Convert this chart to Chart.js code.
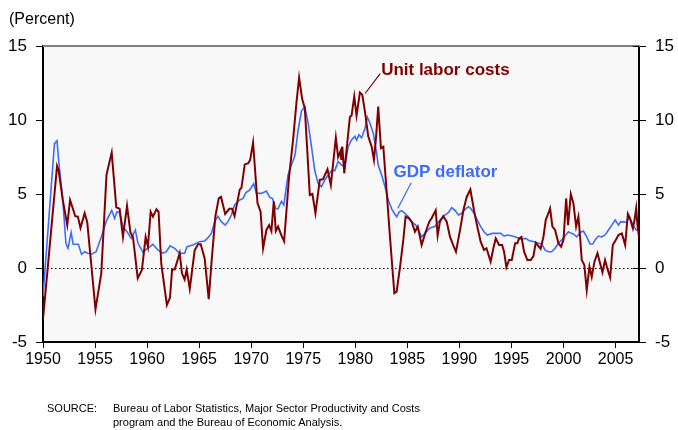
<!DOCTYPE html>
<html>
<head>
<meta charset="utf-8">
<script src="https://cdn.jsdelivr.net/npm/chart.js@4.4.1/dist/chart.umd.min.js"></script>
<style>
  body { margin: 0; background: #fff; }
  #wrap { position: relative; width: 678px; height: 430px; font-family: "Liberation Sans", Arial, sans-serif; color: #000; }
  #percent { position: absolute; left: 9px; top: 11px; font-size: 16px; line-height: 16px; }
  #source { position: absolute; left: 47px; top: 401px; font-size: 11px; line-height: 14px; }
  #source span { display: inline-block; width: 66px; }
  #source div { padding-left: 66px; }
</style>
</head>
<body>
<div id="wrap">
  <canvas id="myChart" width="678" height="430"></canvas>
  <div id="percent">(Percent)</div>
  <div id="source"><span>SOURCE:</span>Bureau of Labor Statistics, Major Sector Productivity and Costs<div>program and the Bureau of Economic Analysis.</div></div>
</div>
<script>
const FONT = '"Liberation Sans", Arial, sans-serif';

// tick labels
const yearTicks = [1950, 1955, 1960, 1965, 1970, 1975, 1980, 1985, 1990, 1995, 2000, 2005];
const percentTicks = [-5, 0, 5, 10, 15];

// unit labor costs, % change
const ulcYears = [1950.0, 1951.35, 1951.5, 1951.9, 1952.33, 1952.6, 1953.1, 1953.35, 1953.6, 1954.0, 1954.25, 1954.6, 1955.04, 1955.6, 1956.1, 1956.6, 1957.04, 1957.36, 1957.68, 1958.07, 1958.4, 1958.64, 1959.1, 1959.5, 1959.86, 1960.08, 1960.34, 1960.56, 1960.9, 1961.1, 1961.36, 1961.9, 1962.2, 1962.4, 1962.65, 1963.13, 1963.35, 1963.6, 1963.8, 1964.1, 1964.57, 1964.9, 1965.15, 1965.53, 1965.92, 1966.2, 1966.56, 1966.88, 1967.1, 1967.5, 1967.9, 1968.16, 1968.4, 1968.9, 1969.06, 1969.38, 1969.7, 1969.9, 1970.18, 1970.6, 1970.9, 1971.14, 1971.46, 1971.72, 1971.94, 1972.17, 1972.36, 1972.58, 1972.9, 1973.16, 1973.64, 1974.02, 1974.35, 1974.6, 1974.9, 1975.15, 1975.63, 1975.88, 1976.17, 1976.59, 1976.9, 1977.33, 1977.65, 1978.13, 1978.35, 1978.58, 1978.65, 1978.75, 1978.94, 1979.16, 1979.48, 1979.64, 1979.9, 1980.12, 1980.44, 1980.67, 1980.92, 1981.24, 1981.57, 1981.79, 1982.0, 1982.2, 1982.46, 1982.69, 1983.0, 1983.33, 1983.55, 1983.75, 1983.97, 1984.3, 1984.61, 1984.83, 1985.15, 1985.41, 1985.73, 1986.0, 1986.37, 1986.76, 1987.11, 1987.33, 1987.72, 1987.91, 1988.13, 1988.45, 1988.78, 1989.1, 1989.4, 1989.67, 1990.06, 1990.38, 1990.7, 1991.05, 1991.4, 1991.72, 1992.04, 1992.36, 1992.6, 1993.0, 1993.26, 1993.49, 1993.81, 1994.1, 1994.29, 1994.51, 1994.77, 1995.03, 1995.35, 1995.57, 1995.73, 1995.96, 1996.21, 1996.53, 1996.85, 1997.11, 1997.33, 1997.8, 1998.07, 1998.29, 1998.55, 1998.71, 1998.93, 1999.19, 1999.51, 1999.77, 2000.0, 2000.25, 2000.44, 2000.7, 2000.95, 2001.21, 2001.43, 2001.59, 2001.75, 2002.0, 2002.23, 2002.49, 2002.71, 2002.97, 2003.26, 2003.51, 2003.74, 2003.99, 2004.25, 2004.48, 2004.73, 2005.02, 2005.28, 2005.6, 2005.92, 2006.18, 2006.4, 2006.66, 2006.82, 2006.98, 2007.1, 2007.25];
const ulcValues = [-3.47, 6.9, 6.6, 4.6, 2.9, 4.6, 3.5, 3.47, 2.7, 3.7, 3.1, 0.5, -2.8, -0.36, 6.3, 7.8, 4.1, 4.0, 2.1, 4.2, 2.4, 2.1, -0.7, -0.13, 2.1, 1.44, 3.8, 3.47, 3.96, 3.8, 0.3, -2.5, -2.0, -0.1, -0.1, 1.0, -0.36, -0.77, -0.1, -1.4, 1.2, 1.6, 1.6, 0.65, -2.1, 0.5, 3.5, 4.7, 4.8, 3.65, 4.0, 4.0, 3.5, 5.3, 5.4, 7.0, 7.07, 7.3, 8.47, 4.4, 3.8, 1.33, 2.57, 2.9, 2.5, 4.5, 2.5, 2.8, 2.2, 1.8, 6.2, 8.65, 11.2, 12.86, 11.4, 10.8, 4.93, 5.0, 3.7, 5.95, 6.0, 6.67, 5.6, 8.8, 7.5, 7.9, 7.3, 8.2, 6.4, 8.0, 10.2, 10.3, 11.6, 10.3, 11.85, 11.7, 10.6, 8.9, 8.2, 7.3, 8.9, 10.9, 8.1, 8.2, 5.27, 2.1, 0.1, -1.7, -1.6, 0.1, 1.9, 3.47, 3.36, 3.13, 2.45, 2.8, 1.55, 2.45, 3.13, 3.36, 3.9, 2.2, 3.13, 3.5, 3.13, 2.1, 1.55, 1.1, 2.57, 3.9, 4.8, 5.3, 3.9, 2.79, 1.78, 1.22, 1.33, 0.43, 1.33, 2.0, 1.55, 1.55, 1.1, 0.05, 0.54, 0.54, 1.67, 1.67, 2.0, 2.1, 1.1, 0.54, 0.54, 0.81, 1.7, 1.3, 2.1, 3.24, 3.7, 4.03, 2.8, 2.57, 1.67, 1.44, 1.9, 4.7, 2.9, 5.0, 4.37, 2.8, 3.47, 2.1, 0.54, 0.2, -1.5, 0.1, -0.6, 0.43, 1.0, 0.32, -0.3, 0.54, -0.13, -0.63, 1.55, 1.9, 2.23, 2.34, 1.55, 3.65, 3.3, 2.68, 3.24, 4.03, 2.9, 2.1];

// GDP deflator, % change
const gdpYears = [1950.0, 1951.1, 1951.35, 1951.5, 1951.9, 1952.2, 1952.4, 1952.7, 1952.9, 1953.4, 1953.7, 1954.0, 1954.3, 1954.7, 1955.1, 1955.6, 1956.1, 1956.6, 1956.88, 1957.1, 1957.36, 1957.68, 1958.07, 1958.48, 1958.87, 1959.12, 1959.6, 1959.92, 1960.56, 1961.05, 1961.5, 1961.85, 1962.2, 1962.65, 1963.13, 1963.6, 1963.83, 1964.4, 1965.05, 1965.53, 1965.85, 1966.17, 1966.5, 1966.8, 1967.13, 1967.5, 1967.77, 1968.1, 1968.4, 1968.9, 1969.22, 1969.5, 1969.86, 1970.24, 1970.5, 1970.98, 1971.46, 1971.78, 1972.04, 1972.36, 1972.58, 1972.9, 1973.13, 1973.54, 1973.86, 1974.2, 1974.5, 1974.83, 1975.15, 1975.47, 1975.79, 1976.1, 1976.43, 1976.75, 1977.07, 1977.4, 1977.71, 1978.03, 1978.35, 1978.68, 1978.99, 1979.32, 1979.64, 1979.96, 1980.12, 1980.35, 1980.6, 1980.92, 1981.15, 1981.4, 1981.73, 1982.05, 1982.2, 1982.53, 1982.85, 1983.17, 1983.49, 1983.74, 1983.97, 1984.23, 1984.45, 1984.77, 1985.1, 1985.41, 1985.8, 1986.05, 1986.37, 1986.69, 1987.17, 1987.65, 1988.13, 1988.61, 1988.94, 1989.26, 1989.58, 1989.9, 1990.22, 1990.54, 1990.86, 1991.08, 1991.4, 1991.72, 1992.04, 1992.36, 1992.68, 1993.16, 1993.97, 1994.29, 1994.61, 1995.09, 1995.41, 1995.9, 1996.37, 1996.69, 1997.17, 1997.65, 1997.91, 1998.23, 1998.55, 1998.87, 1999.19, 1999.51, 1999.83, 2000.22, 2000.47, 2000.75, 2000.95, 2001.27, 2001.6, 2001.91, 2002.23, 2002.55, 2002.81, 2003.03, 2003.35, 2003.68, 2003.99, 2004.32, 2004.64, 2004.96, 2005.28, 2005.5, 2005.82, 2006.08, 2006.34, 2006.66, 2006.98, 2007.25];
const gdpValues = [-1.94, 8.4, 8.6, 7.3, 4.6, 1.67, 1.33, 2.4, 1.6, 1.6, 0.92, 1.1, 1.0, 0.95, 1.1, 2.1, 3.2, 3.9, 3.35, 3.8, 3.74, 2.8, 2.45, 2.0, 2.57, 1.67, 1.06, 1.26, 1.6, 1.2, 1.0, 1.1, 1.5, 1.33, 1.0, 1.0, 1.44, 1.55, 1.78, 1.82, 2.05, 2.34, 3.13, 3.5, 3.13, 2.9, 3.13, 3.58, 4.26, 4.6, 4.7, 5.1, 5.27, 5.7, 5.04, 5.04, 5.2, 4.77, 4.7, 4.0, 4.0, 4.5, 4.26, 6.28, 6.96, 7.6, 9.3, 10.6, 10.9, 9.77, 8.2, 6.6, 5.7, 5.5, 5.95, 6.28, 6.58, 6.58, 7.2, 6.96, 6.85, 8.2, 8.65, 8.9, 8.65, 9.0, 8.8, 9.4, 10.2, 9.8, 9.1, 7.75, 6.96, 6.28, 5.5, 4.6, 4.0, 3.7, 3.47, 3.8, 3.87, 3.7, 3.47, 3.13, 2.9, 2.57, 2.1, 2.34, 2.7, 2.8, 3.24, 3.58, 3.74, 4.08, 3.9, 3.58, 3.7, 3.96, 4.14, 4.03, 3.69, 3.24, 2.79, 2.45, 2.23, 2.34, 2.34, 2.16, 2.23, 2.16, 2.1, 1.94, 2.0, 1.85, 1.78, 1.67, 1.62, 1.2, 1.1, 1.1, 1.33, 1.67, 1.9, 2.23, 2.45, 2.34, 2.3, 2.1, 2.4, 2.5, 2.1, 1.62, 1.62, 1.9, 2.16, 2.1, 2.23, 2.57, 2.9, 3.24, 2.9, 3.13, 3.1, 3.13, 3.47, 2.9, 2.57, 2.55];

// line labels: text position and leader line, in data units
const notes = [
  { text: 'Unit labor costs', color: '#800000', at: [1982.48, 13.03], from: [1980.94, 11.79], to: [1982.39, 13.14] },
  { text: 'GDP deflator', color: '#3d6bff', at: [1983.67, 6.14], from: [1984.08, 4.03], to: [1985.37, 5.76] }
];

const ctx = document.getElementById('myChart');

const framePlugin = {
  id: 'frame',
  beforeDraw(chart) {
    const a = chart.chartArea;
    const c = chart.ctx;
    c.save();
    c.fillStyle = '#f8f8f8';
    c.fillRect(a.left, a.top, a.right - a.left, a.bottom - a.top);
    c.restore();
  },
  beforeDatasetsDraw(chart) {
    const a = chart.chartArea;
    const c = chart.ctx;
    const y0 = chart.scales.y.getPixelForValue(0);
    c.save();
    c.strokeStyle = '#000';
    c.lineWidth = 1;
    c.setLineDash([1.5, 2.5]);
    c.beginPath();
    c.moveTo(a.left, Math.round(y0) + 0.5);
    c.lineTo(a.right, Math.round(y0) + 0.5);
    c.stroke();
    c.restore();
  },
  afterDraw(chart) {
    const a = chart.chartArea;
    const c = chart.ctx;
    const xs = chart.scales.x;
    const ys = chart.scales.y;
    c.save();
    // top border
    c.strokeStyle = '#808080';
    c.lineWidth = 2;
    c.beginPath();
    c.moveTo(a.left, a.top);
    c.lineTo(a.right + 1, a.top);
    c.stroke();
    // inner half of the right axis ticks
    c.strokeStyle = '#000';
    c.lineWidth = 1;
    for (const v of percentTicks) {
      const py = Math.round(ys.getPixelForValue(v)) + 0.5;
      c.beginPath();
      c.moveTo(a.right - 6, py);
      c.lineTo(a.right, py);
      c.stroke();
    }
    // line labels
    c.font = 'bold 17px ' + FONT;
    c.textBaseline = 'alphabetic';
    c.textAlign = 'left';
    for (const n of notes) {
      c.strokeStyle = n.color;
      c.lineWidth = 1.2;
      c.beginPath();
      c.moveTo(xs.getPixelForValue(n.from[0]), ys.getPixelForValue(n.from[1]));
      c.lineTo(xs.getPixelForValue(n.to[0]), ys.getPixelForValue(n.to[1]));
      c.stroke();
      c.fillStyle = n.color;
      c.fillText(n.text, xs.getPixelForValue(n.at[0]), ys.getPixelForValue(n.at[1]));
    }
    c.restore();
  }
};

function yAxis(pos, w) {
  return {
    type: 'linear',
    position: pos,
    min: -5,
    max: 15,
    afterBuildTicks: s => { s.ticks = percentTicks.map(v => ({ value: v })); },
    afterFit: s => { s.width = w; },
    ticks: { color: '#000', font: { size: 17, family: FONT }, padding: 9, callback: v => String(v) },
    grid: { drawOnChartArea: false, drawTicks: true, tickLength: 7, tickColor: '#000', lineWidth: 1 },
    border: { color: '#000', width: 2 }
  };
}

new Chart(ctx, {
  type: 'line',
  data: {
    datasets: [
      {
        label: 'Unit labor costs',
        data: ulcYears.map((x, i) => ({ x: x, y: ulcValues[i] })),
        borderColor: '#800000',
        borderWidth: 2,
        pointRadius: 0,
        tension: 0,
        order: 1
      },
      {
        label: 'GDP deflator',
        data: gdpYears.map((x, i) => ({ x: x, y: gdpValues[i] })),
        borderColor: '#3d6bff',
        borderWidth: 1.6,
        pointRadius: 0,
        tension: 0,
        order: 2
      }
    ]
  },
  options: {
    responsive: false,
    animation: false,
    layout: { padding: { top: 46, left: 0, right: 0, bottom: 0 } },
    plugins: { legend: { display: false }, tooltip: { enabled: false } },
    scales: {
      x: {
        type: 'linear',
        min: 1950,
        max: 2007.25,
        afterBuildTicks: s => { s.ticks = yearTicks.map(v => ({ value: v })); },
        afterFit: s => { s.height = 88; },
        ticks: { color: '#000', font: { size: 16, family: FONT }, padding: 2, maxRotation: 0, autoSkip: false, callback: v => String(v) },
        grid: { drawOnChartArea: false, drawTicks: true, tickLength: 6, tickColor: '#000', lineWidth: 1 },
        border: { color: '#000', width: 2 }
      },
      y: yAxis('left', 43),
      y2: yAxis('right', 39)
    }
  },
  plugins: [framePlugin]
});
</script>
</body>
</html>
